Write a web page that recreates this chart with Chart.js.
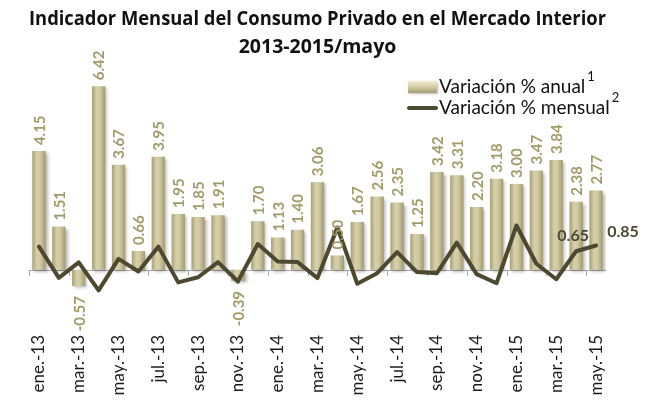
<!DOCTYPE html>
<html>
<head>
<meta charset="utf-8">
<script src="https://cdn.jsdelivr.net/npm/chart.js@4"></script>
<style>
  html, body { margin: 0; padding: 0; background: #ffffff; }
  #wrap { width: 650px; height: 402px; position: relative; }
</style>
</head>
<body>
<div id="wrap"><canvas id="c" width="650" height="402"></canvas></div>
<script>
// ---- data ----
const categories = ["ene.-13","feb.-13","mar.-13","abr.-13","may.-13","jun.-13","jul.-13","ago.-13","sep.-13","oct.-13","nov.-13","dic.-13",
                    "ene.-14","feb.-14","mar.-14","abr.-14","may.-14","jun.-14","jul.-14","ago.-14","sep.-14","oct.-14","nov.-14","dic.-14",
                    "ene.-15","feb.-15","mar.-15","abr.-15","may.-15"];
const annualVar = [4.15,1.51,-0.57,6.42,3.67,0.66,3.95,1.95,1.85,1.91,-0.39,1.70,
                   1.13,1.40,3.06,0.50,1.67,2.56,2.35,1.25,3.42,3.31,2.20,3.18,
                   3.00,3.47,3.84,2.38,2.77];
const monthlyVar = [0.81,-0.28,0.26,-0.72,0.38,-0.06,0.81,-0.44,-0.26,0.27,-0.41,0.90,
                    0.29,0.27,-0.29,1.48,-0.49,-0.12,0.62,-0.08,-0.12,0.95,-0.15,-0.47,
                    1.55,0.21,-0.33,0.65,0.85];
const monthlyLabeled = [27, 28];   // indices whose monthly value is labelled
const seriesNames = ["Variación % anual", "Variación % mensual"];
const seriesSup = ["1", "2"];
const titleLines = ["Indicador Mensual del Consumo Privado en el Mercado Interior", "2013-2015/mayo"];

const FONT = "Lato, 'Open Sans', sans-serif";
const TITLE_FONT = "'Open Sans', Lato, sans-serif";
const barLabelColor = "#a29b69";
const lineColor = "#4d4830";

function barGradient(ctx, x0, x1) {
  const g = ctx.createLinearGradient(x0, 0, x1, 0);
  g.addColorStop(0, "#a69f76");
  g.addColorStop(0.35, "#d6d0aa");
  g.addColorStop(0.6, "#d0c9a1");
  g.addColorStop(1, "#a19a71");
  return g;
}

const decorPlugin = {
  id: "decor",
  beforeDatasetsDraw(chart) {
    const ctx = chart.ctx, xs = chart.scales.x, ys = chart.scales.y, ca = chart.chartArea;
    const y0 = ys.getPixelForValue(0);
    ctx.save();
    ctx.strokeStyle = "#a8a8a8";
    ctx.lineWidth = 1;
    ctx.beginPath();
    ctx.moveTo(ca.left, Math.round(y0) + 0.5);
    ctx.lineTo(ca.right, Math.round(y0) + 0.5);
    for (let i = 0; i <= categories.length; i += 2) {
      const x = Math.round(xs.getPixelForValue(i - 0.5)) + 0.5;
      ctx.moveTo(x, Math.round(y0) + 0.5);
      ctx.lineTo(x, Math.round(y0) + 6);
    }
    ctx.stroke();
    ctx.restore();
  },
  beforeDatasetDraw(chart, args) {
    if (args.index === 0) {
      const ctx = chart.ctx;
      ctx.save();
      ctx.shadowColor = "rgba(0,0,0,0.28)";
      ctx.shadowOffsetX = 2;
      ctx.shadowOffsetY = 2;
      ctx.shadowBlur = 3;
    }
  },
  afterDatasetDraw(chart, args) {
    if (args.index === 0) chart.ctx.restore();
  },
  afterDatasetsDraw(chart) {
    const ctx = chart.ctx;
    // bar labels
    const bm = chart.getDatasetMeta(0);
    ctx.save();
    ctx.font = "bold 15px " + FONT;
    ctx.fillStyle = barLabelColor;
    ctx.textBaseline = "middle";
    bm.data.forEach((el, i) => {
      const v = annualVar[i];
      const txt = v.toFixed(2);
      ctx.save();
      if (v >= 0) {
        ctx.translate(el.x + 1, el.y - 6);
        ctx.rotate(-Math.PI / 2);
        ctx.textAlign = "left";
      } else {
        ctx.translate(el.x + 1, el.y + 10);
        ctx.rotate(-Math.PI / 2);
        ctx.textAlign = "right";
      }
      ctx.fillText(txt, 0, 0);
      ctx.restore();
    });
    ctx.restore();
    // line labels
    const lm = chart.getDatasetMeta(1);
    ctx.save();
    ctx.font = "bold 16px " + FONT;
    ctx.fillStyle = lineColor;
    ctx.textBaseline = "middle";
    ctx.textAlign = "center";
    monthlyLabeled.forEach((i, k) => {
      const el = lm.data[i];
      const dx = k === monthlyLabeled.length - 1 ? 27 : -3;
      const dy = k === monthlyLabeled.length - 1 ? -14 : -15;
      ctx.fillText(monthlyVar[i].toFixed(2), el.x + dx, el.y + dy);
    });
    ctx.restore();
  },
  afterDraw(chart) {
    const ctx = chart.ctx;
    ctx.save();
    // legend row 1 : bar swatch
    const g = ctx.createLinearGradient(0, 81, 0, 93);
    g.addColorStop(0, "#f2eed2");
    g.addColorStop(0.5, "#d3cca4");
    g.addColorStop(1, "#a39c74");
    ctx.shadowColor = "rgba(0,0,0,0.25)";
    ctx.shadowOffsetX = 1; ctx.shadowOffsetY = 1; ctx.shadowBlur = 2;
    ctx.fillStyle = g;
    ctx.fillRect(408, 81, 29, 12);
    ctx.shadowColor = "transparent";
    // legend row 2 : line swatch
    ctx.strokeStyle = lineColor;
    ctx.lineWidth = 4;
    ctx.lineCap = "round";
    ctx.beginPath();
    ctx.moveTo(409, 108);
    ctx.lineTo(436, 108);
    ctx.stroke();
    // legend text
    ctx.fillStyle = "#111111";
    ctx.textBaseline = "middle";
    ctx.textAlign = "left";
    const rows = [87, 108];
    rows.forEach((y, i) => {
      ctx.font = "19px " + FONT;
      ctx.fillText(seriesNames[i], 439, y);
      const w = ctx.measureText(seriesNames[i]).width;
      ctx.font = "13px " + FONT;
      ctx.fillText(seriesSup[i], 439 + w + 2, y - 10);
    });
    ctx.restore();
  }
};

const ctxEl = document.getElementById("c");
new Chart(ctxEl, {
  data: {
    labels: categories,
    datasets: [
      {
        type: "bar",
        label: seriesNames[0],
        data: annualVar,
        order: 2,
        categoryPercentage: 1.0,
        barPercentage: 0.67,
        borderWidth: 0,
        backgroundColor: (c) => {
          const chart = c.chart;
          if (!chart.chartArea || c.dataIndex === undefined) return "#cfc9a2";
          const xs = chart.scales.x;
          const cx = xs.getPixelForValue(c.dataIndex);
          const half = xs.width / categories.length * 0.67 / 2;
          return barGradient(chart.ctx, cx - half, cx + half);
        }
      },
      {
        type: "line",
        label: seriesNames[1],
        data: monthlyVar,
        order: 1,
        borderColor: lineColor,
        borderWidth: 4,
        pointRadius: 0,
        tension: 0,
        borderJoinStyle: "round",
        borderCapStyle: "round",
        fill: false
      }
    ]
  },
  options: {
    responsive: false,
    animation: false,
    devicePixelRatio: 1,
    layout: { padding: { left: 29, right: 44, top: 0, bottom: 0 } },
    plugins: {
      legend: { display: false },
      tooltip: { enabled: false },
      title: {
        display: true,
        text: titleLines,
        color: "#111111",
        font: { family: TITLE_FONT, size: 19.5, weight: "bold", lineHeight: 1.4 },
        padding: { top: 6, bottom: 9 }
      }
    },
    scales: {
      x: {
        type: "category",
        grid: { display: false, drawTicks: false },
        border: { display: false },
        ticks: {
          autoSkip: false,
          minRotation: 90,
          maxRotation: 90,
          padding: 8,
          color: "#1a1a1a",
          font: { family: FONT, size: 17 },
          callback: function (v, i) { return i % 2 === 0 ? categories[i] : ""; }
        },
        afterFit: (s) => { s.height = 75; }
      },
      y: {
        display: false,
        min: -2,
        max: 7
      }
    }
  },
  plugins: [decorPlugin]
});
</script>
</body>
</html>
